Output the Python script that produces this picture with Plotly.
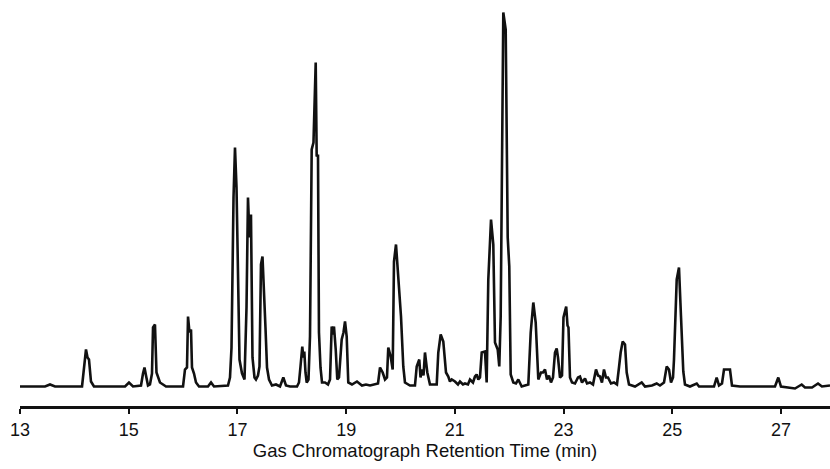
import plotly.graph_objects as go

# Retention time (min) of each trace vertex
retention_time = [
    13.000, 13.460, 13.552, 13.644, 14.141, 14.177, 14.214, 14.242, 14.269, 14.306,
    14.361, 14.932, 15.005, 15.079, 15.226, 15.263, 15.290, 15.318, 15.355, 15.391,
    15.428, 15.447, 15.483, 15.511, 15.539, 15.575, 15.631, 15.686, 15.999, 16.035,
    16.072, 16.091, 16.118, 16.146, 16.164, 16.201, 16.238, 16.293, 16.458, 16.514,
    16.569, 16.826, 16.863, 16.891, 16.928, 16.955, 16.983, 17.001, 17.020, 17.038,
    17.084, 17.130, 17.167, 17.194, 17.222, 17.249, 17.277, 17.314, 17.341, 17.378,
    17.406, 17.433, 17.461, 17.489, 17.516, 17.544, 17.581, 17.636,
    17.709, 17.783, 17.844, 17.893, 17.967, 18.096, 18.132, 18.160, 18.193, 18.212,
    18.230, 18.252, 18.274, 18.307, 18.335, 18.366, 18.399, 18.440, 18.458, 18.482,
    18.500, 18.528, 18.556, 18.611, 18.666, 18.703, 18.734, 18.758, 18.776, 18.808,
    18.837, 18.868, 18.918, 18.951, 18.979, 19.010, 19.039, 19.107, 19.199, 19.291,
    19.365, 19.439, 19.531, 19.586, 19.623, 19.672, 19.715, 19.751, 19.775, 19.819,
    19.856, 19.880, 19.917, 19.959, 20.009, 20.051, 20.082, 20.174, 20.266, 20.298,
    20.345, 20.368, 20.390, 20.423, 20.450, 20.493, 20.542, 20.666, 20.695, 20.739,
    20.787, 20.837, 20.879, 20.910, 20.942, 21.002, 21.057, 21.094, 21.149, 21.186,
    21.241, 21.278, 21.333, 21.370, 21.401, 21.431, 21.462, 21.494, 21.554, 21.585,
    21.615, 21.665, 21.707, 21.738, 21.788, 21.817, 21.843, 21.891, 21.935, 21.972,
    22.001, 22.027, 22.075, 22.124, 22.167, 22.229, 22.351, 22.395, 22.443, 22.487,
    22.535,
    22.584, 22.621, 22.658, 22.695, 22.731, 22.768, 22.805, 22.842, 22.873, 22.897,
    22.934, 22.971, 22.998, 23.026, 23.048, 23.072, 23.090, 23.118, 23.155, 23.210,
    23.265, 23.302, 23.339, 23.394, 23.431, 23.486, 23.541, 23.596, 23.633, 23.670,
    23.706, 23.743, 23.780, 23.817, 23.872, 23.927, 23.982, 24.019, 24.050, 24.087,
    24.130, 24.161, 24.203, 24.314, 24.437, 24.498, 24.626, 24.713, 24.773, 24.847,
    24.897, 24.939, 24.976, 25.013, 25.031, 25.081, 25.123, 25.160, 25.202, 25.233,
    25.325, 25.449, 25.491, 25.767, 25.816, 25.859, 25.914, 25.951, 26.061, 26.098,
    26.245, 26.889, 26.950, 26.999, 27.165, 27.257, 27.380, 27.441, 27.570, 27.680,
    27.753, 27.901,
]

# Detector response (arbitrary units) at each vertex
response = [
    1, 1, 3, 1, 1, 18, 38, 30, 28, 6,
    1, 1, 5, 1, 2, 14, 20, 12, 2, 3,
    14, 60, 63, 15, 10, 5, 3, 1, 1, 18,
    20, 71, 55, 58, 20, 14, 5, 1, 1, 5,
    1, 2, 10, 40, 190, 240, 200, 125, 95, 28,
    14, 8, 80, 190, 150, 173, 30, 10, 8, 12,
    21, 123, 131, 100, 60, 20, 8, 2,
    3, 1, 10, 2, 1, 1, 5, 21, 41, 30,
    36, 15, 5, 8, 51, 238, 245, 325, 231, 233,
    55, 20, 5, 5, 3, 8, 61, 53, 61, 38,
    8, 10, 48, 55, 66, 51, 5, 3, 6, 2,
    3, 2, 3, 4, 20, 15, 8, 10, 40, 31,
    18, 126, 143, 110, 71, 21, 5, 2, 2, 21,
    28, 10, 18, 12, 35, 15, 3, 3, 35, 53,
    46, 15, 11, 6, 8, 6, 3, 6, 3, 4,
    3, 8, 5, 11, 13, 8, 10, 35, 36, 5,
    108, 168, 143, 45, 38, 21, 71, 375, 358, 150,
    121, 13, 5, 4, 8, 1, 3, 55, 85, 65,
    8,
    15, 15, 18, 8, 12, 5, 10, 35, 39, 30,
    10, 12, 70, 75, 81, 62, 60, 10, 5, 4,
    10, 11, 5, 9, 4, 5, 3, 18, 12, 11,
    5, 18, 10, 10, 4, 5, 3, 20, 35, 46,
    43, 15, 3, 1, 5, 1, 2, 4, 2, 5,
    21, 18, 5, 10, 28, 108, 120, 71, 16, 3,
    1, 4, 1, 1, 10, 2, 4, 18, 18, 2,
    1, 1, 10, 1, 0, -1, 3, 0, 0, 4,
    1, 2,
]

tick_values = [13, 15, 17, 19, 21, 23, 25, 27]
tick_labels = ["13", "15", "17", "19", "21", "23", "25", "27"]

fig = go.Figure()
fig.add_trace(go.Scatter(
    x=retention_time, y=response, mode="lines",
    line=dict(color="#111111", width=2.6),
    hoverinfo="skip", showlegend=False,
))

fig.update_layout(
    width=830, height=469,
    margin=dict(l=20, r=0, t=5, b=63),
    paper_bgcolor="white", plot_bgcolor="white",
    font=dict(family="Liberation Sans, Arial, sans-serif", color="#111111"),
    xaxis=dict(
        range=[13, 27.901],
        showline=True, linecolor="#111111", linewidth=3,
        ticks="outside", ticklen=5, tickwidth=2, tickcolor="#111111",
        tickvals=tick_values, ticktext=tick_labels,
        tickfont=dict(size=18),
        showgrid=False, zeroline=False,
        title=dict(text="Gas Chromatograph Retention Time (min)",
                   font=dict(size=18.5), standoff=3),
    ),
    yaxis=dict(
        range=[-18.5, 382.5],
        visible=False, showgrid=False, zeroline=False,
    ),
)

fig.write_html("out.html", config={"displayModeBar": False},
               post_script="document.body.style.margin='0px';")
